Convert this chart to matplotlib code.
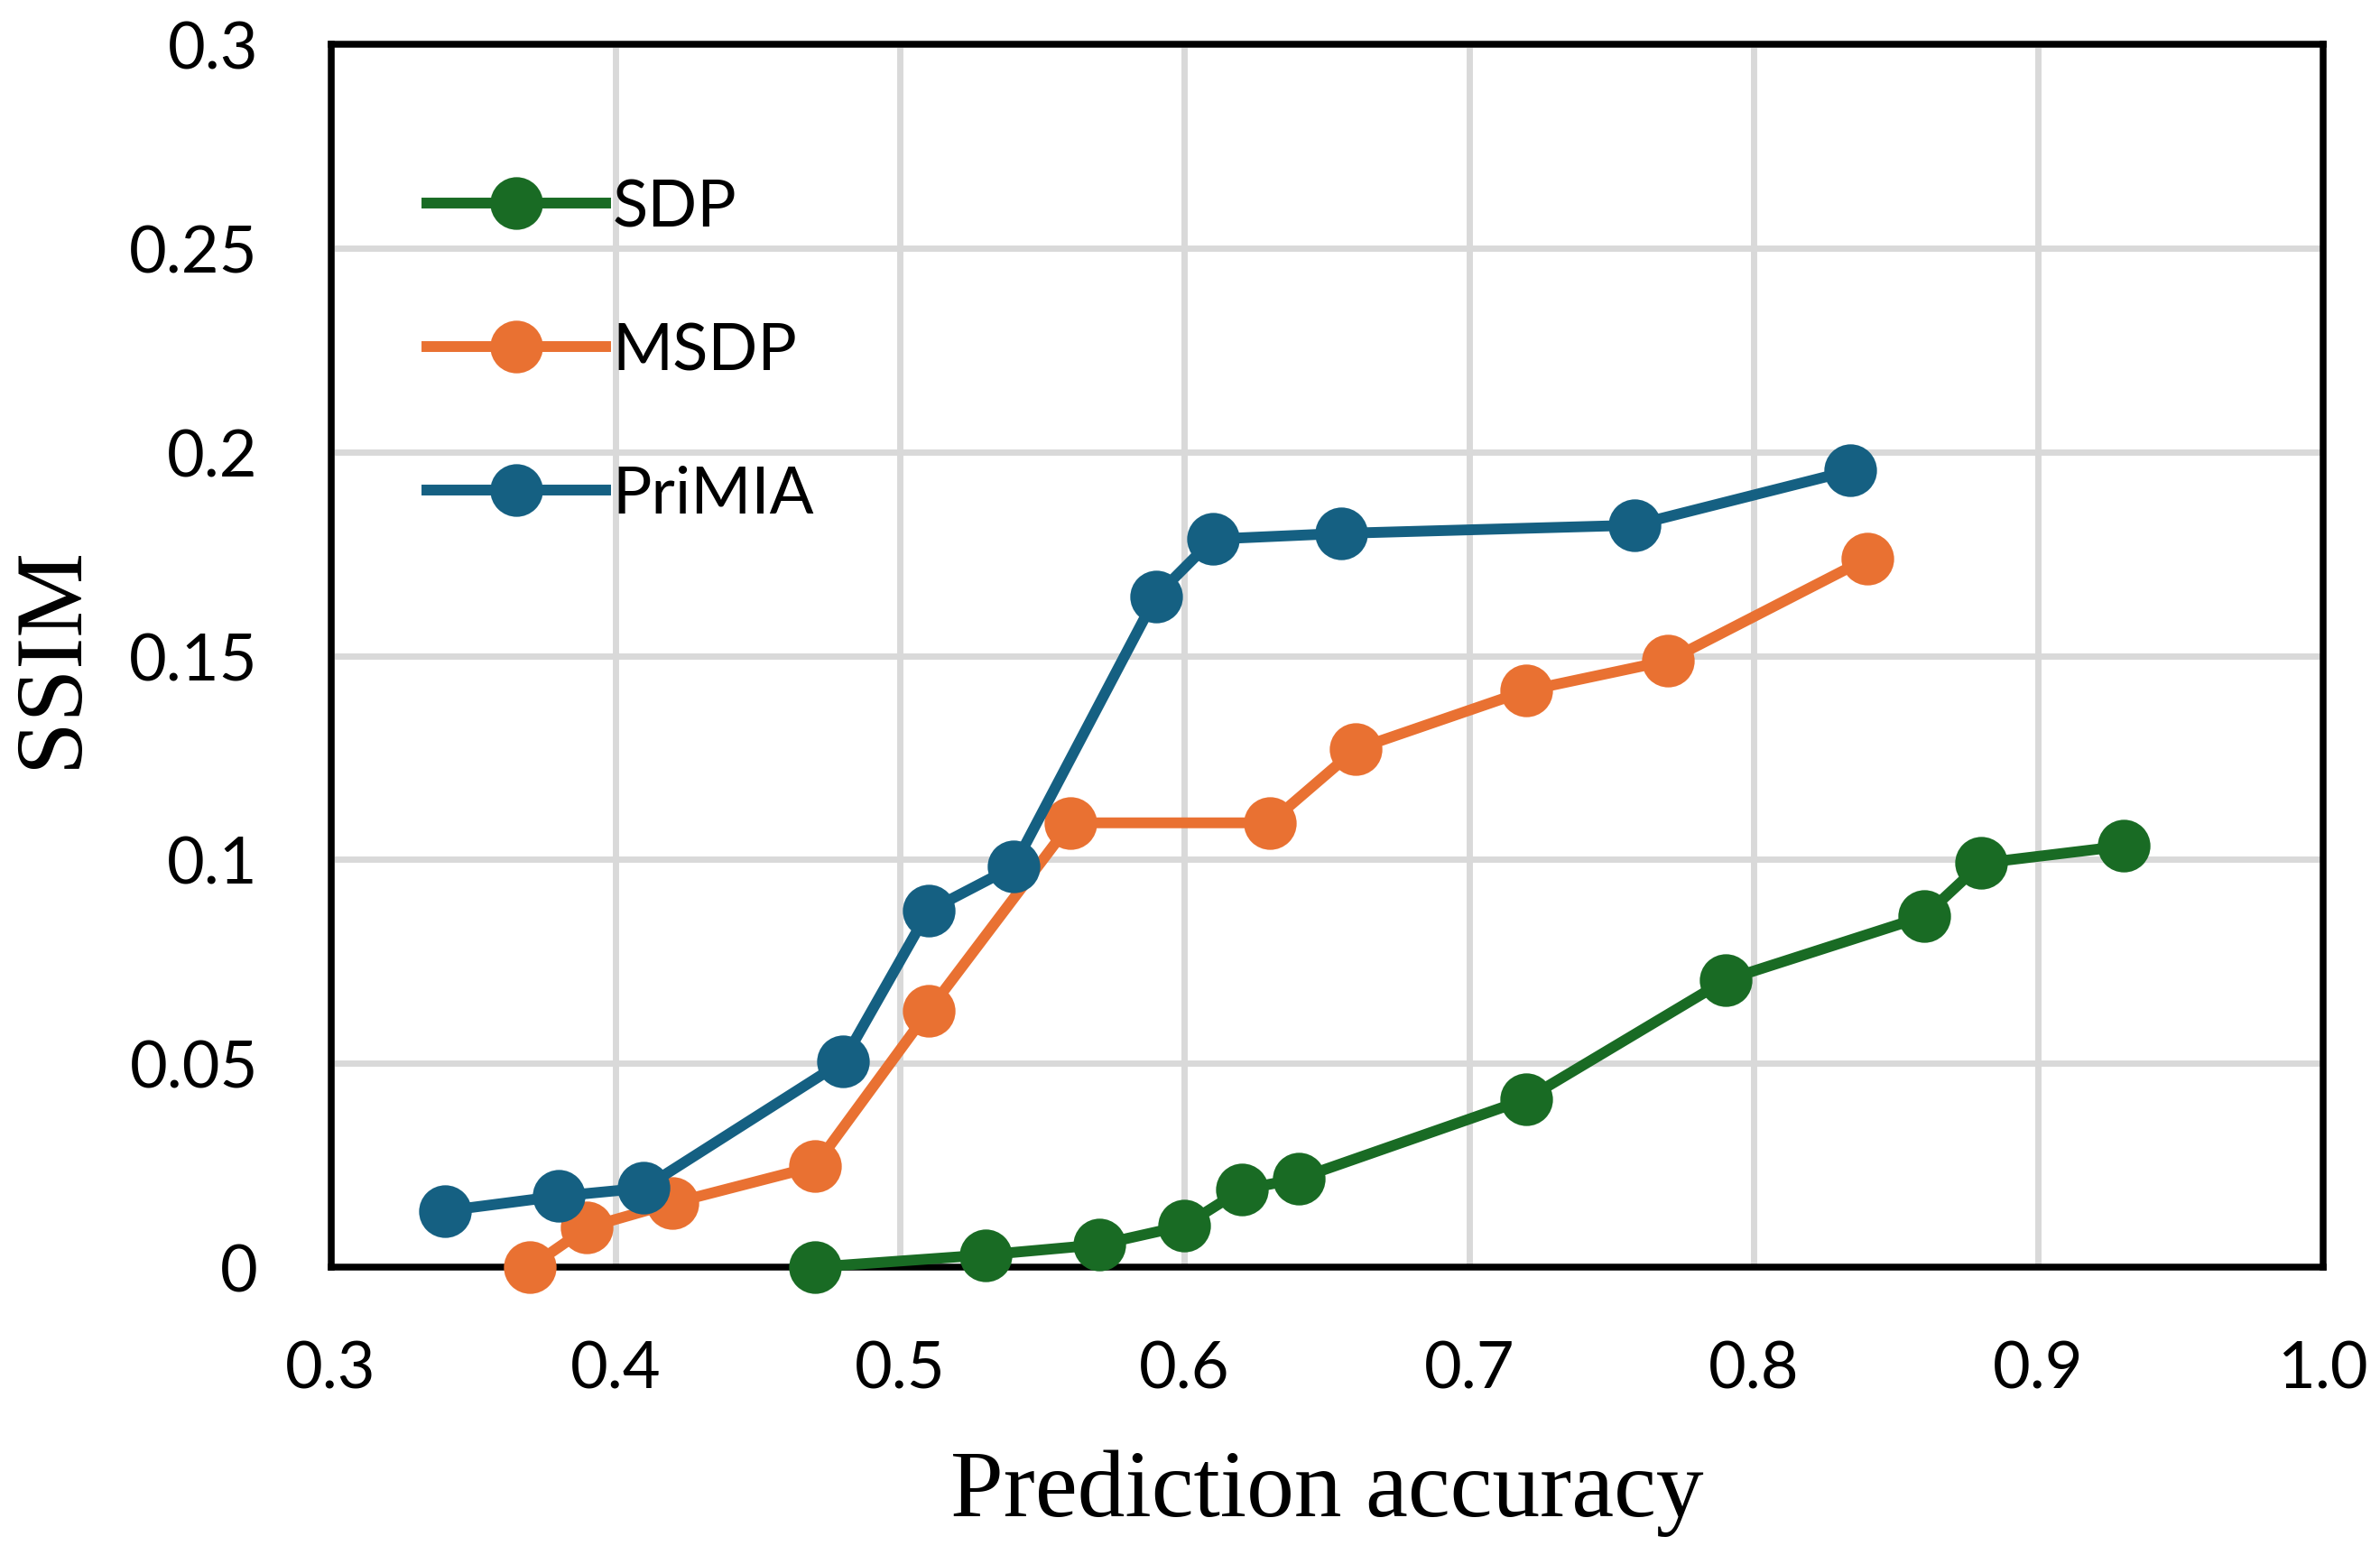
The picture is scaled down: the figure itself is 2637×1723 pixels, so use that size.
import matplotlib
matplotlib.use("Agg")
import matplotlib.pyplot as plt

# values
sdp_x = [0.47, 0.53, 0.57, 0.60, 0.62, 0.64, 0.72, 0.79, 0.86, 0.88, 0.93]
sdp_y = [0.0, 0.003, 0.0055, 0.0102, 0.019, 0.0217, 0.0412, 0.0704, 0.0861, 0.0991, 0.1033]
msdp_x = [0.37, 0.39, 0.42, 0.47, 0.51, 0.56, 0.63, 0.66, 0.72, 0.77, 0.84]
msdp_y = [0.0, 0.0097, 0.0157, 0.0247, 0.0628, 0.109, 0.109, 0.127, 0.1414, 0.1488, 0.1739]
primia_x = [0.34, 0.38, 0.41, 0.48, 0.51, 0.54, 0.59, 0.61, 0.655, 0.758, 0.834]
primia_y = [0.0138, 0.0174, 0.0194, 0.0505, 0.0874, 0.0983, 0.1646, 0.1786, 0.180, 0.182, 0.1954]

x_ticks = [0.3, 0.4, 0.5, 0.6, 0.7, 0.8, 0.9, 1.0]
y_ticks = [0, 0.05, 0.1, 0.15, 0.2, 0.25, 0.3]
y_tick_labels = ["0", "0.05", "0.1", "0.15", "0.2", "0.25", "0.3"]

series = [
    ("SDP", sdp_x, sdp_y, "#196B24"),
    ("MSDP", msdp_x, msdp_y, "#E97132"),
    ("PriMIA", primia_x, primia_y, "#156082"),
]

fig = plt.figure(figsize=(13.185, 8.62), dpi=200)
ax = fig.add_axes([0.139, 0.185, 0.837, 0.786])

for name, xs, ys, color in series:
    ax.plot(xs, ys, "-o", color=color, lw=4.3, markersize=20, label=name,
            clip_on=False, zorder=3)

ax.set_xlim(0.3, 1.0)
ax.set_ylim(0, 0.3)
ax.set_xticks(x_ticks)
ax.set_xticklabels([f"{v:.1f}" for v in x_ticks])
ax.set_yticks(y_ticks)
ax.set_yticklabels(y_tick_labels)
ax.grid(True, color="#D9D9D9", lw=2.5)
ax.set_axisbelow(True)
ax.tick_params(length=0, labelsize=26)
ax.tick_params(axis="y", pad=29)
ax.tick_params(axis="x", pad=29)
for lab in ax.get_xticklabels() + ax.get_yticklabels():
    lab.set_family("Lato")
for sp in ax.spines.values():
    sp.set_linewidth(2.7)

ax.set_xlabel("Prediction accuracy", family="Liberation Serif", fontsize=38, labelpad=20)
ax.set_ylabel("SSIM", family="Liberation Serif", fontsize=38, labelpad=13)

ax.legend(loc="upper left", bbox_to_anchor=(0.035, 0.912), frameon=False,
          prop={"family": "Lato", "size": 26}, handlelength=2.75,
          handletextpad=0.1, labelspacing=1.3, borderaxespad=0)

fig.savefig("out.png", dpi=200)
